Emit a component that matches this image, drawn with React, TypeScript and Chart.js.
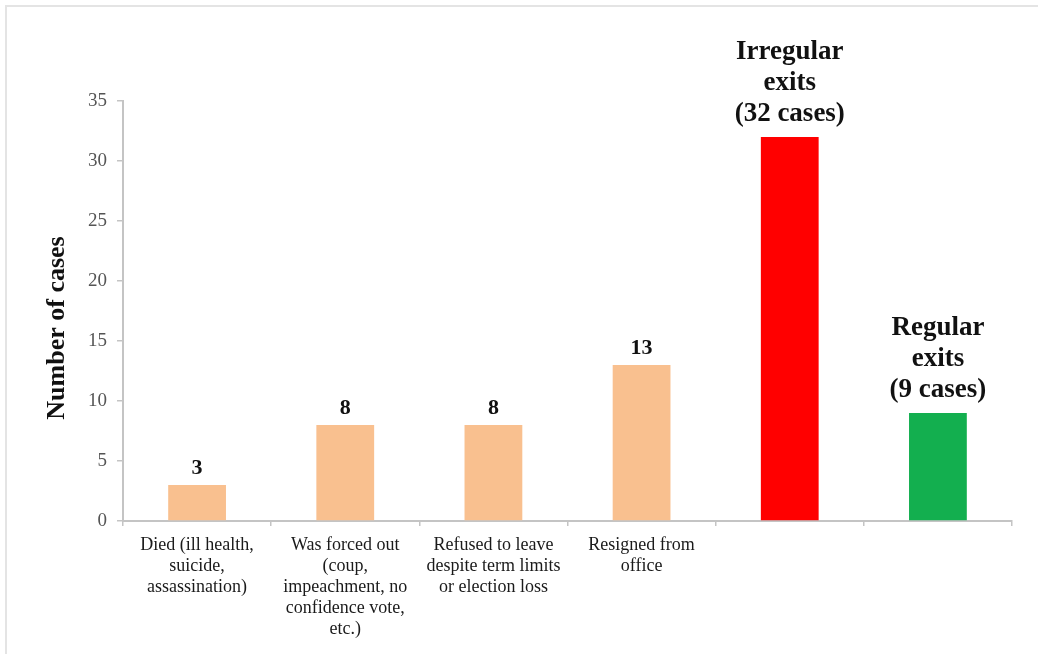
import React, { useEffect, useRef } from "react";
import { Chart, registerables } from "chart.js";

Chart.register(...registerables);

const categories: (string | string[])[] = [
  ["Died (ill health,", "suicide,", "assassination)"],
  ["Was forced out", "(coup,", "impeachment, no", "confidence vote,", "etc.)"],
  ["Refused to leave", "despite term limits", "or election loss"],
  ["Resigned from", "office"],
  "",
  "",
];
const cases = [3, 8, 8, 13, 32, 9];
const barColors = ["#F9C08F", "#F9C08F", "#F9C08F", "#F9C08F", "#FF0000", "#13AF4F"];
const groupHeadings: string[][] = [
  [],
  [],
  [],
  [],
  ["Irregular", "exits", "(32 cases)"],
  ["Regular", "exits", "(9 cases)"],
];
const yTitle = "Number of cases";

const SERIF = '"Liberation Serif", "Times New Roman", serif';

const labelsPlugin = {
  id: "barLabels",
  afterDatasetsDraw(chart: any) {
    const ctx = chart.ctx;
    const meta = chart.getDatasetMeta(0);
    ctx.save();
    ctx.textAlign = "center";
    ctx.textBaseline = "middle";
    ctx.fillStyle = "#111";
    meta.data.forEach((bar: any, i: number) => {
      const heading = groupHeadings[i];
      if (heading && heading.length) {
        ctx.font = `bold 27px ${SERIF}`;
        const n = heading.length;
        heading.forEach((line, k) => {
          ctx.fillText(line, bar.x, bar.y - 23 - (n - 1 - k) * 31);
        });
      } else {
        ctx.font = `bold 22px ${SERIF}`;
        ctx.fillText(String(cases[i]), bar.x, bar.y - 17);
      }
    });
    // y axis title
    ctx.translate(57, 328);
    ctx.rotate(-Math.PI / 2);
    ctx.font = `bold 26px ${SERIF}`;
    ctx.fillText(yTitle, 0, 0);
    ctx.restore();
  },
};

export default function App() {
  const ref = useRef<HTMLCanvasElement>(null);
  useEffect(() => {
    if (!ref.current) return;
    const chart = new Chart(ref.current, {
      type: "bar",
      data: {
        labels: categories,
        datasets: [
          {
            data: cases,
            backgroundColor: barColors,
            borderWidth: 0,
            barPercentage: 0.39,
            categoryPercentage: 1,
          },
        ],
      },
      options: {
        animation: false,
        responsive: false,
        devicePixelRatio: 1,
        layout: { padding: { top: 101, right: 26, left: 0, bottom: 0 } },
        plugins: {
          legend: { display: false },
          tooltip: { enabled: false },
          title: { display: false },
        },
        scales: {
          x: {
            afterFit: (s: any) => {
              s.height = 133;
            },
            grid: {
              display: true,
              drawOnChartArea: false,
              drawTicks: true,
              tickLength: 5,
              color: "#c4c4c4",
              lineWidth: 1.5,
              offset: true,
            },
            border: { display: true, color: "#c4c4c4", width: 2 },
            ticks: {
              color: "#1a1a1a",
              padding: 9,
              maxRotation: 0,
              autoSkip: false,
              font: { family: SERIF, size: 18, lineHeight: 21 / 18 },
            },
          },
          y: {
            min: 0,
            max: 35,
            afterFit: (s: any) => {
              s.width = 123;
            },
            grid: {
              display: true,
              drawOnChartArea: false,
              drawTicks: true,
              tickLength: 6,
              color: "#c4c4c4",
              lineWidth: 1.5,
            },
            border: { display: true, color: "#c4c4c4", width: 2 },
            ticks: {
              stepSize: 5,
              color: "#555555",
              padding: 10,
              font: { family: SERIF, size: 19 },
            },
          },
        },
      },
      plugins: [labelsPlugin],
    });
    return () => chart.destroy();
  }, []);

  return (
    <div style={{ position: "absolute", left: 0, top: 0, width: 1038, height: 654, background: "#fff" }}>
      <div
        style={{
          position: "absolute",
          left: 5,
          top: 5,
          right: 0,
          bottom: 0,
          borderTop: "2px solid #e4e4e4",
          borderLeft: "2px solid #e4e4e4",
        }}
      />
      <canvas ref={ref} width={1038} height={654} style={{ position: "absolute", left: 0, top: 0 }} />
    </div>
  );
}
